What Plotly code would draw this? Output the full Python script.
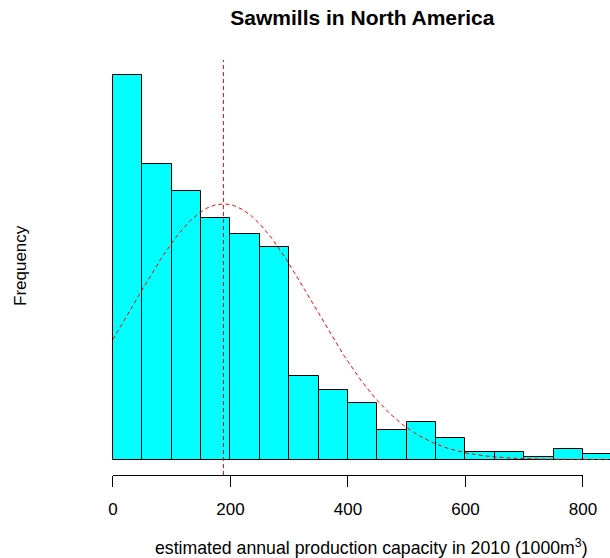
import numpy as np
import plotly.graph_objects as go

# Histogram data (bins of width 50, starting at 0)
bin_starts = [0, 50, 100, 150, 200, 250, 300, 350, 400, 450, 500, 550, 600, 650, 700, 750, 800]
counts = [143, 110, 100, 90, 84, 79, 31, 26, 21, 11, 14, 8, 3, 3, 1, 4, 2]
bin_width = 50
# Fitted normal curve parameters
mean_val = 188
sd_val = 153
x_ticks = [0, 200, 400, 600, 800]
x_tick_labels = ["0", "200", "400", "600", "800"]

n_total = sum(counts)
mids = [b + bin_width / 2 for b in bin_starts]

fig = go.Figure()
fig.add_trace(go.Bar(
    x=mids, y=counts, width=bin_width,
    marker=dict(color="#00FFFF", line=dict(color="black", width=1)),
    showlegend=False, hoverinfo="skip",
))

xc = np.linspace(0, bin_starts[-1] + bin_width, 400)
yc = n_total * bin_width * np.exp(-0.5 * ((xc - mean_val) / sd_val) ** 2) / (sd_val * np.sqrt(2 * np.pi))
fig.add_trace(go.Scatter(
    x=xc, y=yc, mode="lines",
    line=dict(color="red", width=1, dash="4px,3px"),
    showlegend=False, hoverinfo="skip",
))

ymax = max(counts)
yr = [-0.04 * ymax, 1.04 * ymax]

fig.add_shape(type="line", xref="x", yref="paper", x0=mean_val, x1=mean_val, y0=0, y1=1,
              line=dict(color="red", width=1, dash="4px,3px"))
fig.add_shape(type="line", xref="x", yref="paper", x0=x_ticks[0], x1=x_ticks[-1],
              y0=-0.5 / 415, y1=-0.5 / 415,
              line=dict(color="black", width=1))

font_family = "Liberation Sans, Arial, sans-serif"
fig.update_layout(
    width=610, height=558,
    margin=dict(l=93, r=0, t=60, b=83),
    plot_bgcolor="white", paper_bgcolor="white",
    bargap=0,
    font=dict(family=font_family, size=17, color="black"),
    title=dict(text="<b>Sawmills in North America</b>", x=0.521, xref="paper",
               y=1 - 18 / 558, yref="container", xanchor="center", yanchor="middle",
               font=dict(size=21, family=font_family, color="black")),
    xaxis=dict(range=[-34, -34 + 517 / 0.5875], showgrid=False, zeroline=False, showline=False,
               tickmode="array", tickvals=x_ticks, ticktext=x_tick_labels,
               ticks="outside", ticklen=11, tickcolor="black", tickwidth=1,
               ticklabelstandoff=8, tickfont=dict(size=17)),
    yaxis=dict(range=yr, visible=False),
    annotations=[
        dict(text="estimated annual production capacity in 2010 (1000m<sup>3</sup>)",
             xref="paper", yref="paper", x=(371 - 93) / 517, y=(475 - 547) / 415,
             xanchor="center", yanchor="middle", showarrow=False, font=dict(size=17.7)),
        dict(text="Frequency", xref="paper", yref="paper", x=(20 - 93) / 517, y=(475 - 266) / 415,
             xanchor="center", yanchor="middle", showarrow=False, textangle=-90, font=dict(size=17)),
    ],
)

fig.write_html("out.html")
